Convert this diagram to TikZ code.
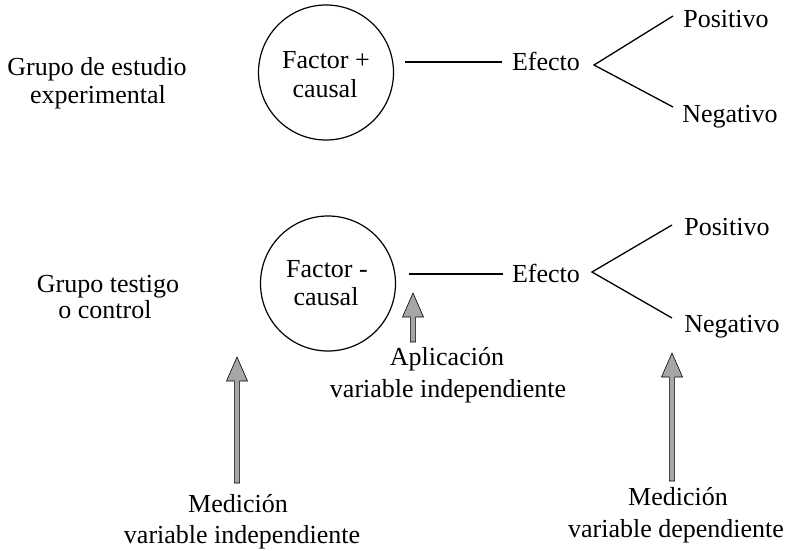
\documentclass[tikz,border=0pt]{standalone}
\usepackage{fontspec}
\setmainfont{Liberation Serif}
\usetikzlibrary{calc}
\newcommand\fatarrow[2]{%
  \draw[garrow] (#1) -- ($(#1)+(10.5,24)$) -- ($(#1)+(2.6,24)$) -- ($(#2)+(2.6,0)$)
    -- ($(#2)+(-2.6,0)$) -- ($(#1)+(-2.6,24)$) -- ($(#1)+(-10.5,24)$) -- cycle;}
\begin{document}
\begin{tikzpicture}[x=1pt,y=-1pt,
  txt/.style={inner sep=0pt, anchor=base, font=\fontsize{26}{29}\selectfont},
  factor/.style={circle, draw, line width=1.2pt, minimum size=135pt, inner sep=0pt},
  conn/.style={line width=1.3pt},
  garrow/.style={draw=black, fill=black!35, line width=0.6pt, line join=miter}]
\useasboundingbox (0,0) rectangle (790,550);

% ---------- row 1 ----------
\node[txt] (g1a) at (97,75) {Grupo de estudio};
\node[txt] (g1b) at (98,103) {experimental};
\node[factor] (c1) at (326,72.5) {};
\node[txt] (f1a) at (326,68) {Factor +};
\node[txt] (f1b) at (325,97) {causal};
\node[txt] (e1) at (546,70) {Efecto};
\node[txt] (p1) at (726,27) {Positivo};
\node[txt] (n1) at (730,122) {Negativo};
\coordinate (l1s) at (405,62);
\coordinate (l1e) at (502,62);
\coordinate (v1) at (594,65);
\coordinate (p1e) at (673,16);
\coordinate (n1e) at (673,107);
\draw[conn] (l1s) -- (l1e);
\draw[conn] (p1e) -- (v1) -- (n1e);

% ---------- row 2 ----------
\node[txt] (g2a) at (108,292) {Grupo testigo};
\node[txt] (g2b) at (105,318) {o control};
\node[factor] (c2) at (328,283.5) {};
\node[txt] (f2a) at (327,277) {Factor -};
\node[txt] (f2b) at (326,305) {causal};
\node[txt] (e2) at (546,282) {Efecto};
\node[txt] (p2) at (727,235) {Positivo};
\node[txt] (n2) at (732,332) {Negativo};
\coordinate (l2s) at (409,274);
\coordinate (l2e) at (503,274);
\coordinate (v2) at (592,272);
\coordinate (p2e) at (672,225);
\coordinate (n2e) at (672,318);
\draw[conn] (l2s) -- (l2e);
\draw[conn] (p2e) -- (v2) -- (n2e);

% ---------- lower labels ----------
\node[txt] (ap1) at (447,365) {Aplicación};
\node[txt] (ap2) at (448,397) {variable independiente};
\node[txt] (mi1) at (238,512) {Medición};
\node[txt] (mi2) at (242,543) {variable independiente};
\node[txt] (md1) at (678,505) {Medición};
\node[txt] (md2) at (676,537) {variable dependiente};

% ---------- gray arrows ----------
\coordinate (a1t) at (413,293);
\coordinate (a1b) at (413,342);
\coordinate (a2t) at (237,357);
\coordinate (a2b) at (237,483);
\coordinate (a3t) at (672,353);
\coordinate (a3b) at (672,481);
\fatarrow{a1t}{a1b}
\fatarrow{a2t}{a2b}
\fatarrow{a3t}{a3b}
\end{tikzpicture}
\end{document}
